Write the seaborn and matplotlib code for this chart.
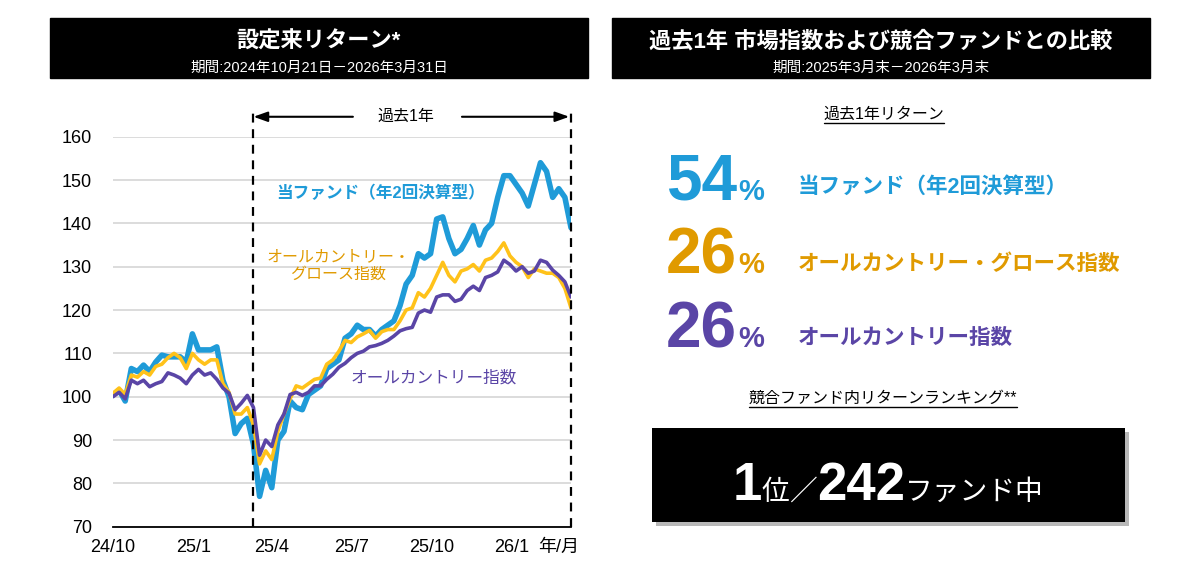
import matplotlib
matplotlib.use("Agg")
import matplotlib.pyplot as plt
import numpy as np
import pandas as pd
import seaborn as sns
from matplotlib.patches import Rectangle

# weekly readings, 2024-10-21 .. 2026-03-30 (start = 100)
dates = pd.date_range("2024-10-21", periods=76, freq="7D")

fund = [100.4, 101.5, 99.0, 106.5, 105.8, 107.3, 105.8, 108.0, 109.6, 109.2,
        109.2, 109.2, 108.0, 114.5, 110.8, 110.8, 110.8, 111.5, 103.8, 100.0,
        91.5, 93.8, 95.0, 89.0, 77.0, 83.0, 79.0, 90.0, 92.0, 99.0,
        97.5, 97.0, 100.5, 101.5, 102.5, 106.5, 107.5, 108.5, 113.5, 114.5,
        116.5, 115.5, 115.5, 114.0, 115.5, 116.5, 117.5, 121.0, 126.0, 128.0,
        133.0, 132.0, 133.0, 141.0, 141.5, 136.5, 133.0, 134.0, 136.5, 139.5,
        135.0, 138.5, 140.0, 146.0, 151.0, 151.0, 149.0, 147.0, 144.0, 149.0,
        154.0, 152.0, 146.0, 148.0, 146.0, 139.0]

growth = [100.8, 102.0, 100.5, 105.0, 104.5, 105.8, 105.0, 107.0, 107.5, 109.0,
          110.0, 109.0, 106.5, 110.0, 108.5, 107.5, 108.5, 108.5, 103.0, 101.0,
          96.0, 96.0, 97.5, 93.5, 84.5, 87.5, 85.5, 92.0, 96.0, 99.5,
          102.5, 102.0, 103.0, 104.0, 104.3, 107.5, 108.5, 110.5, 113.0, 112.5,
          113.8, 114.5, 115.3, 113.5, 115.0, 115.5, 115.5, 117.5, 120.0, 120.5,
          124.0, 123.0, 125.0, 128.0, 131.0, 128.0, 126.5, 129.0, 129.5, 130.5,
          129.0, 131.5, 132.0, 133.5, 135.5, 132.5, 131.0, 130.0, 127.5, 129.5,
          129.0, 128.5, 128.5, 127.5, 125.0, 120.5]

acwi = [100.0, 101.0, 99.5, 103.8, 103.0, 103.8, 102.3, 103.0, 103.5, 105.5,
        105.0, 104.3, 103.0, 105.0, 106.3, 105.0, 105.5, 104.0, 102.0, 100.8,
        97.0, 98.5, 100.3, 97.5, 86.5, 90.0, 88.5, 93.5, 96.0, 100.5,
        101.0, 100.3, 101.0, 102.5, 102.5, 104.0, 105.2, 106.8, 107.7, 109.0,
        110.0, 110.5, 111.5, 111.8, 112.3, 113.0, 114.0, 115.2, 115.7, 116.0,
        119.3, 120.0, 119.5, 123.0, 123.5, 123.5, 122.0, 122.5, 124.5, 125.5,
        124.5, 127.5, 128.0, 128.8, 131.5, 130.5, 129.0, 130.0, 128.5, 129.0,
        131.5, 131.0, 129.2, 128.0, 126.5, 123.0]

tick_dates = pd.to_datetime(["2024-10-21", "2025-01-21", "2025-04-21",
                             "2025-07-21", "2025-10-21", "2026-01-21", "2026-03-16"])
tick_labels = ["24/10", "25/1", "25/4", "25/7", "25/10", "26/1", "年/月"]
one_year_start = pd.Timestamp("2025-03-31")

ret_values = ["54", "26", "26"]
ret_names = ["当ファンド（年2回決算型）", "オールカントリー・グロース指数", "オールカントリー指数"]

BLUE = "#1f9bd8"
GOLD = "#ffc21a"
GOLD_TXT = "#e09a00"
PURPLE = "#5a45a6"

df = pd.DataFrame({"date": dates, "fund": fund, "growth": growth, "acwi": acwi})

sns.set_theme(style="white")
plt.rcParams["font.family"] = ["Liberation Sans", "Noto Sans CJK JP"]

fig = plt.figure(figsize=(12, 5.88), dpi=100)

# pixel-space overlay for the boxes and the right panel
bg = fig.add_axes([0, 0, 1, 1], zorder=0)
bg.set_xlim(0, 1200)
bg.set_ylim(588, 0)
bg.axis("off")


def underline(t, y, lw=1.0):
    fig.canvas.draw()
    bb = t.get_window_extent()
    inv = bg.transData.inverted()
    x0, _ = inv.transform((bb.x0, bb.y0))
    x1, _ = inv.transform((bb.x1, bb.y0))
    bg.plot([x0, x1], [y, y], color="black", lw=lw)


# headers
for x0, title, sub in [(50, "設定来リターン*", "期間:2024年10月21日－2026年3月31日"),
                       (612, "過去1年 市場指数および競合ファンドとの比較", "期間:2025年3月末－2026年3月末")]:
    bg.add_patch(Rectangle((x0, 18), 538, 60, color="black"))
    bg.text(x0 + 269, 42, title, color="white", fontsize=16, fontweight="bold",
            ha="center", va="center")
    bg.text(x0 + 269, 68, sub, color="white", fontsize=10.5, ha="center", va="center")

# past 1y returns
t = bg.text(884, 114, "過去1年リターン", fontsize=11.5, ha="center", va="center", color="black")
underline(t, 123)

row_base = [200, 273, 347]
row_mid = [187, 264, 338]
num_colors = [BLUE, GOLD_TXT, PURPLE]
for v, name, c, yb, ym in zip(ret_values, ret_names, num_colors, row_base, row_mid):
    bg.text(737, yb, v, fontsize=46, fontweight="bold", color=c, ha="right", va="baseline")
    bg.text(738, yb, "%", fontsize=21, fontweight="bold", color=c, ha="left", va="baseline")
    bg.text(798, ym, name, fontsize=15.5, fontweight="bold", color=c, ha="left", va="center")

# ranking
t = bg.text(883, 398, "競合ファンド内リターンランキング**", fontsize=11.5, ha="center",
            va="center", color="black")
underline(t, 407)
bg.add_patch(Rectangle((656, 432), 473, 94, color="#8a8a8a", alpha=0.6, lw=0))
bg.add_patch(Rectangle((652, 428), 473, 94, color="black", lw=0))

pieces = [("1", 38, "bold"), ("位", 20, "normal"), ("／", 20, "normal"),
          ("242", 38, "bold"), ("ファンド中", 20, "normal")]
texts = [bg.text(0, 500, s, fontsize=fs, fontweight=w, color="white", ha="left",
                 va="baseline") for s, fs, w in pieces]
fig.canvas.draw()
inv = bg.transData.inverted()
widths = []
for tx in texts:
    bb = tx.get_window_extent()
    widths.append(inv.transform((bb.x1, 0))[0] - inv.transform((bb.x0, 0))[0])
x = 888 - sum(widths) / 2
for tx, w in zip(texts, widths):
    tx.set_x(x)
    x += w

# line chart
ax = fig.add_axes([113 / 1200, 1 - 526.7 / 588, 458 / 1200, 390 / 588], zorder=2)
ax.set_facecolor("none")
sns.lineplot(data=df, x="date", y="fund", ax=ax, color=BLUE, linewidth=4.0, zorder=3)
sns.lineplot(data=df, x="date", y="growth", ax=ax, color=GOLD, linewidth=2.6, zorder=4)
sns.lineplot(data=df, x="date", y="acwi", ax=ax, color=PURPLE, linewidth=2.6, zorder=5)

ax.set_xlim(dates[0], dates[-1])
ax.set_ylim(70, 160)
ax.set_yticks(np.arange(70, 161, 10))
ax.set_xticks(tick_dates)
ax.set_xticklabels(tick_labels)
ax.set_xlabel("")
ax.set_ylabel("")
ax.yaxis.grid(True, color="#d9d9d9", lw=1.3)
ax.xaxis.grid(False)
for s in ["top", "right", "left"]:
    ax.spines[s].set_visible(False)
ax.spines["bottom"].set_color("black")
ax.spines["bottom"].set_linewidth(1.3)
ax.tick_params(axis="y", length=0, labelsize=13, pad=15, colors="black")
ax.tick_params(axis="x", length=0, labelsize=13, pad=9, colors="black")

for d in [one_year_start, dates[-1]]:
    ax.axvline(d, ymin=0, ymax=1.068, color="black", lw=1.6, ls=(0, (4, 3)),
               clip_on=False, zorder=6)

y_arrow = 164.6
start = dates[0]
ax.annotate("", xy=(one_year_start, y_arrow), xytext=(start + pd.Timedelta(days=275), y_arrow),
            arrowprops=dict(arrowstyle="-|>,head_length=0.7,head_width=0.25", color="black",
                            lw=1.5, shrinkA=0, shrinkB=0), annotation_clip=False)
ax.annotate("", xy=(dates[-1] - pd.Timedelta(days=2), y_arrow),
            xytext=(start + pd.Timedelta(days=400), y_arrow),
            arrowprops=dict(arrowstyle="-|>,head_length=0.7,head_width=0.25", color="black",
                            lw=1.5, shrinkA=0, shrinkB=0), annotation_clip=False)
ax.text(start + pd.Timedelta(days=336), y_arrow, "過去1年", fontsize=11.5, ha="center",
        va="center", color="black", clip_on=False)

ax.text(start + pd.Timedelta(days=307), 147, "当ファンド（年2回決算型）", fontsize=12,
        fontweight="bold", color=BLUE, ha="center", va="center")
ax.text(start + pd.Timedelta(days=258), 130.3, "オールカントリー・\nグロース指数", fontsize=11.5,
        color=GOLD_TXT, ha="center", va="center", linespacing=1.25)
ax.text(start + pd.Timedelta(days=368), 104.3, "オールカントリー指数", fontsize=12,
        color=PURPLE, ha="center", va="center")

fig.savefig("out.png", dpi=100)
